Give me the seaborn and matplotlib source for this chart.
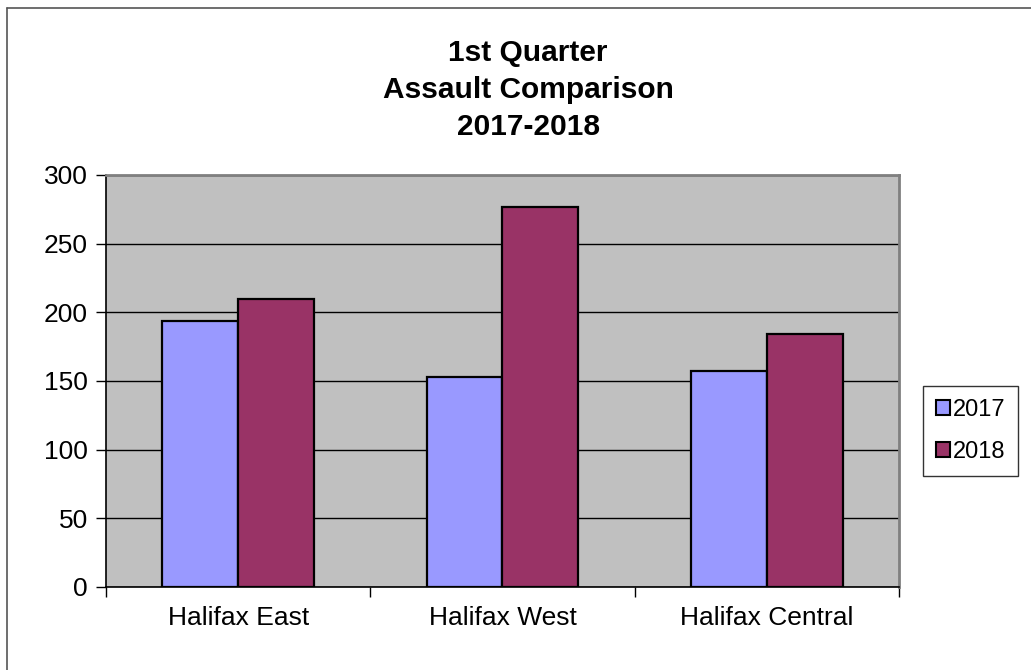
import pandas as pd
import matplotlib
matplotlib.use('Agg')
import matplotlib.pyplot as plt
import seaborn as sns
from matplotlib.lines import Line2D
from matplotlib.ticker import MultipleLocator, FixedLocator

districts = ['Halifax East', 'Halifax West', 'Halifax Central']
years = ['2017', '2018']
assaults_2017 = [194, 153, 157]
assaults_2018 = [210, 277, 184]
colors = ['#9999FF', '#993366']

df = pd.DataFrame({
    'District': districts * 2,
    'Year': [years[0]] * 3 + [years[1]] * 3,
    'Assaults': assaults_2017 + assaults_2018,
})

sns.set_style('white')
plt.rcParams['font.family'] = ['Liberation Sans', 'DejaVu Sans']
plt.rcParams['text.color'] = 'black'
plt.rcParams['xtick.color'] = 'black'
plt.rcParams['ytick.color'] = 'black'

fig = plt.figure(figsize=(10.31, 6.70), dpi=100)
ax = fig.add_axes([106 / 1031, 1 - 587 / 670, 793 / 1031, 412 / 670])
ax.set_facecolor('#C0C0C0')
ax.set_axisbelow(True)

sns.barplot(data=df, x='District', y='Assaults', hue='Year', palette=colors,
            width=0.575, gap=0, edgecolor='black', linewidth=1.6,
            saturation=1, legend=False, ax=ax)

ax.set_ylim(0, 300)
ax.set_xlim(-0.5, 2.5)
ax.yaxis.set_major_locator(MultipleLocator(50))
ax.grid(axis='y', color='black', linewidth=1)
ax.grid(axis='x', visible=False)

# x ticks sit between the categories, not under them
ax.xaxis.set_minor_locator(FixedLocator([-0.5, 0.5, 1.5, 2.5]))
ax.tick_params(axis='x', which='major', length=0, labelsize=19, pad=14)
ax.tick_params(axis='x', which='minor', length=7, width=1, color='black',
               direction='out', bottom=True)
ax.tick_params(axis='y', length=7, width=1, color='black', direction='out',
               left=True, labelsize=19, pad=6)
ax.set_xlabel('')
ax.set_ylabel('')

for side in ['top', 'right']:
    ax.spines[side].set_color('#808080')
    ax.spines[side].set_linewidth(2)
for side in ['left', 'bottom']:
    ax.spines[side].set_color('black')
    ax.spines[side].set_linewidth(1.2)

fig.text(528 / 1031, 1 - 90 / 670, '1st Quarter\nAssault Comparison\n2017-2018',
         ha='center', va='center', fontsize=21.5, fontweight='bold',
         linespacing=1.4, color='black')

handles = [plt.Rectangle((0, 0), 1, 1, facecolor=c, edgecolor='black', linewidth=1.5)
           for c in colors]
leg = fig.legend(handles, years, loc='center left',
                 bbox_to_anchor=(923 / 1031, 1 - 431 / 670),
                 frameon=True, fancybox=False, fontsize=17,
                 handlelength=0.6, handleheight=0.6, handletextpad=0.1,
                 labelspacing=0.85, borderpad=0.55, borderaxespad=0)
leg.get_frame().set_edgecolor('black')
leg.get_frame().set_linewidth(1)

# outer chart border
fig.add_artist(Line2D([7 / 1031, 7 / 1031], [0, 1 - 8 / 670], color='#555555',
                      linewidth=1.2, transform=fig.transFigure))
fig.add_artist(Line2D([7 / 1031, 1], [1 - 8 / 670, 1 - 8 / 670], color='#555555',
                      linewidth=1.2, transform=fig.transFigure))

fig.savefig('out.png', dpi=100)
